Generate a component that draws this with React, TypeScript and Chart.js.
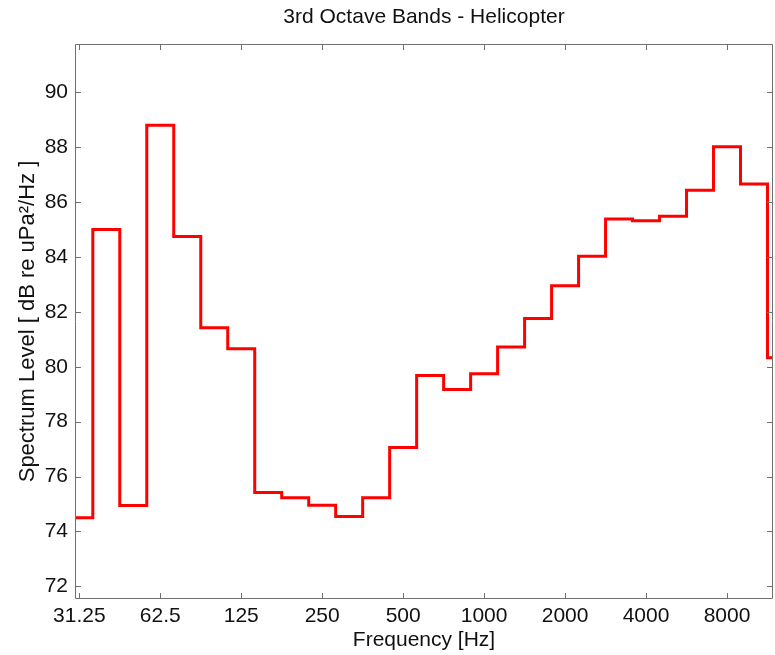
import React, { useEffect, useRef } from "react";
import { Chart, registerables } from "chart.js";

Chart.register(...registerables);

// Third-octave band edges (Hz), base-2 bands around 31.25 ... 12700 Hz
const bandEdges = [
  27.84, 35.08, 44.19, 55.68, 70.15, 88.39, 111.36, 140.31, 176.78, 222.72,
  280.62, 353.55, 445.45, 561.23, 707.11, 890.9, 1122.46, 1414.21, 1781.8,
  2244.92, 2828.43, 3563.59, 4489.85, 5656.85, 7127.19, 8979.7, 11313.71,
  14254.38,
];

// Spectrum level per band (dB re uPa^2/Hz)
const levels = [
  74.5, 85.0, 74.95, 88.8, 84.75, 81.42, 80.66, 75.42, 75.23, 74.96, 74.55,
  75.23, 77.06, 79.68, 79.17, 79.75, 80.72, 81.76, 82.95, 84.03, 85.38, 85.32,
  85.48, 86.43, 88.02, 86.66, 80.33,
];

const xTicks = [31.25, 62.5, 125, 250, 500, 1000, 2000, 4000, 8000];
const xTickLabels = ["31.25", "62.5", "125", "250", "500", "1000", "2000", "4000", "8000"];
const yTicks = [72, 74, 76, 78, 80, 82, 84, 86, 88, 90];

const chartTitle = "3rd Octave Bands - Helicopter";
const xTitle = "Frequency [Hz]";
const yTitle = "Spectrum Level [ dB re uPa\u00B2/Hz ]";

const FONT = "'Liberation Sans', Arial, Helvetica, sans-serif";
const AXIS_COLOR = "#707070";
const TEXT_COLOR = "#111111";

const boxPlugin = {
  id: "matlabBox",
  afterDraw(chart: any) {
    const { ctx, chartArea: a, scales } = chart;
    const L = 6;
    ctx.save();
    ctx.strokeStyle = AXIS_COLOR;
    ctx.lineWidth = 1;
    ctx.beginPath();
    ctx.rect(a.left + 0.5, a.top + 0.5, a.right - a.left - 1, a.bottom - a.top - 1);
    for (const v of xTicks) {
      const px = Math.round(scales.x.getPixelForValue(v)) + 0.5;
      ctx.moveTo(px, a.bottom);
      ctx.lineTo(px, a.bottom - L);
      ctx.moveTo(px, a.top);
      ctx.lineTo(px, a.top + L);
    }
    for (const v of yTicks) {
      const py = Math.round(scales.y.getPixelForValue(v)) + 0.5;
      ctx.moveTo(a.left, py);
      ctx.lineTo(a.left + L, py);
      ctx.moveTo(a.right, py);
      ctx.lineTo(a.right - L, py);
    }
    ctx.stroke();
    ctx.restore();
  },
};

export default function App() {
  const canvasRef = useRef<HTMLCanvasElement | null>(null);

  useEffect(() => {
    const canvas = canvasRef.current;
    if (!canvas) return;
    const points = bandEdges.map((f, i) => ({
      x: f,
      y: levels[Math.min(i, levels.length - 1)],
    }));
    const chart = new Chart(canvas, {
      type: "line",
      data: {
        datasets: [
          {
            data: points,
            borderColor: "#ff0000",
            borderWidth: 3,
            stepped: "before",
            pointRadius: 0,
            fill: false,
            borderJoinStyle: "miter",
            clip: 0,
          } as any,
        ],
      },
      options: {
        animation: false,
        responsive: true,
        maintainAspectRatio: false,
        layout: { padding: { left: 0, right: 2, top: 0, bottom: 0 } },
        plugins: {
          legend: { display: false },
          tooltip: { enabled: false },
          title: {
            display: true,
            text: chartTitle,
            fullSize: false,
            color: TEXT_COLOR,
            font: { family: FONT, size: 21, weight: "normal" },
            padding: { top: 5, bottom: 13.8 },
          } as any,
        },
        scales: {
          x: {
            type: "logarithmic",
            min: 30.12,
            max: 11860,
            afterBuildTicks: (scale: any) => {
              scale.ticks = xTicks.map((v) => ({ value: v }));
            },
            afterFit: (scale: any) => {
              scale.height = 56;
            },
            ticks: {
              autoSkip: false,
              maxRotation: 0,
              minRotation: 0,
              padding: 5,
              color: TEXT_COLOR,
              font: { family: FONT, size: 21 },
              callback: (value: any) => {
                const i = xTicks.indexOf(Number(value));
                return i >= 0 ? xTickLabels[i] : "";
              },
            },
            grid: { display: false, drawTicks: false },
            border: { display: false },
            title: {
              display: true,
              text: xTitle,
              color: TEXT_COLOR,
              font: { family: FONT, size: 21 },
              padding: { top: 0, bottom: 2.4 },
            },
          },
          y: {
            type: "linear",
            min: 71.54,
            max: 91.76,
            afterBuildTicks: (scale: any) => {
              scale.ticks = yTicks.map((v) => ({ value: v }));
            },
            afterFit: (scale: any) => {
              scale.width = 75;
            },
            ticks: {
              autoSkip: false,
              padding: 7,
              color: TEXT_COLOR,
              font: { family: FONT, size: 21 },
              callback: (value: any) => String(value),
            },
            grid: { display: false, drawTicks: false },
            border: { display: false },
            title: {
              display: true,
              text: yTitle,
              color: TEXT_COLOR,
              font: { family: FONT, size: 22 },
              padding: { top: 14.8, bottom: 0 },
            },
          },
        },
      },
      plugins: [boxPlugin],
    });
    return () => chart.destroy();
  }, []);

  return (
    <div
      style={{
        position: "absolute",
        left: 0,
        top: 0,
        width: 775,
        height: 655,
        background: "#ffffff",
      }}
    >
      <canvas ref={canvasRef} />
    </div>
  );
}
